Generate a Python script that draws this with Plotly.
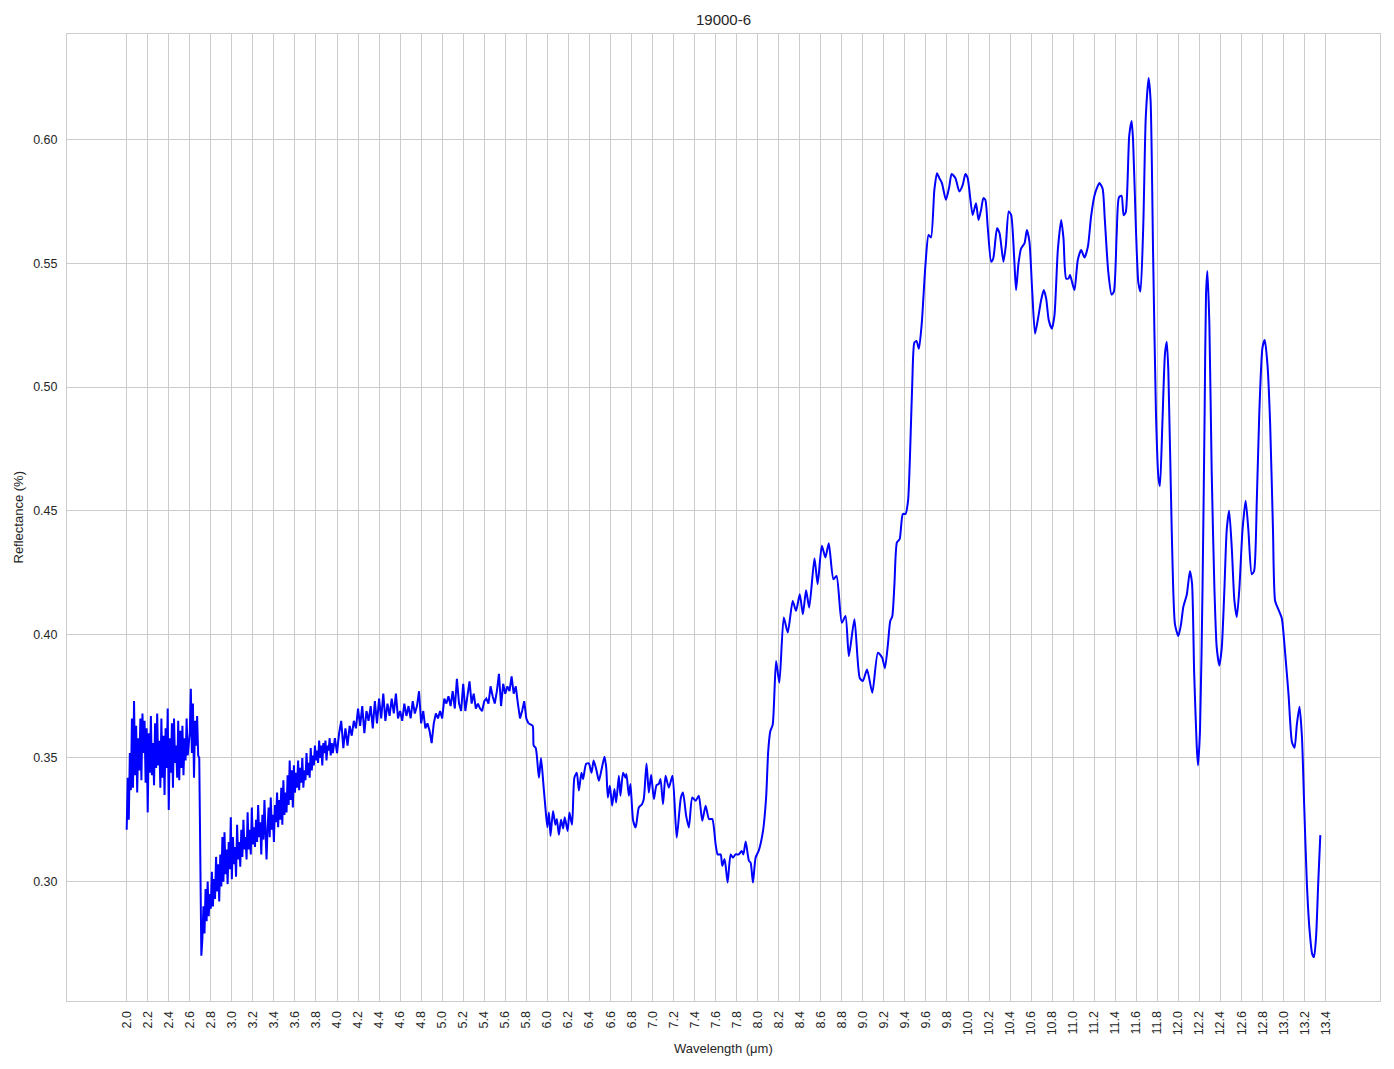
import numpy as np
import plotly.graph_objects as go

# ---- noisy segment A: 2.00 .. 2.69 (step 0.01)
noisy_a_start, noisy_a_step = 2.00, 0.01
noisy_a = [0.321, 0.342, 0.325, 0.352, 0.337, 0.366, 0.338, 0.373, 0.343, 0.363,
           0.336, 0.358, 0.345, 0.366, 0.341, 0.368, 0.352, 0.365, 0.340, 0.362,
           0.328, 0.360, 0.344, 0.367, 0.343, 0.356, 0.339, 0.364, 0.346, 0.368,
           0.347, 0.357, 0.338, 0.366, 0.342, 0.359, 0.335, 0.362, 0.346, 0.370,
           0.329, 0.358, 0.344, 0.364, 0.338, 0.366, 0.348, 0.355, 0.342, 0.365,
           0.341, 0.361, 0.346, 0.363, 0.343, 0.358, 0.349, 0.366, 0.351, 0.356,
           0.360, 0.378, 0.352, 0.372, 0.342, 0.365, 0.355, 0.367, 0.351, 0.350]

# ---- drop
drop_x = [2.695, 2.700, 2.705, 2.710]
drop_y = [0.331, 0.300, 0.272, 0.270]

# ---- noisy segment B: 2.72 .. 3.95 (step 0.01)
noisy_b_start, noisy_b_step = 2.72, 0.01
noisy_b = [0.277, 0.290, 0.279, 0.297, 0.284, 0.300, 0.286, 0.295, 0.289, 0.304,
           0.290, 0.301, 0.293, 0.310, 0.296, 0.307, 0.292, 0.311, 0.298, 0.318,
           0.300, 0.320, 0.303, 0.313, 0.299, 0.316, 0.305, 0.326, 0.301, 0.318,
           0.307, 0.314, 0.302, 0.323, 0.309, 0.316, 0.306, 0.321, 0.310, 0.325,
           0.313, 0.318, 0.309, 0.328, 0.313, 0.321, 0.311, 0.330, 0.315, 0.322,
           0.314, 0.325, 0.316, 0.331, 0.318, 0.324, 0.311, 0.327, 0.317, 0.333,
           0.320, 0.309, 0.322, 0.330, 0.318, 0.334, 0.321, 0.327, 0.316, 0.331,
           0.324, 0.336, 0.322, 0.333, 0.325, 0.338, 0.323, 0.341, 0.327, 0.336,
           0.328, 0.343, 0.331, 0.349, 0.333, 0.345, 0.330, 0.347, 0.336, 0.344,
           0.338, 0.349, 0.337, 0.346, 0.340, 0.350, 0.338, 0.345, 0.341, 0.352,
           0.343, 0.348, 0.342, 0.354, 0.345, 0.351, 0.347, 0.355, 0.349, 0.353,
           0.348, 0.357, 0.350, 0.355, 0.347, 0.356, 0.352, 0.357, 0.349, 0.355,
           0.353, 0.358, 0.351, 0.356]

# ---- noisy segment C: 3.96 .. 5.82 (step 0.02)
noisy_c_start, noisy_c_step = 3.96, 0.02
noisy_c = [0.352, 0.358, 0.352, 0.360, 0.365, 0.354, 0.362, 0.355, 0.363, 0.359,
           0.365, 0.362, 0.370, 0.363, 0.371, 0.360, 0.369, 0.365, 0.371, 0.362,
           0.373, 0.364, 0.374, 0.366, 0.376, 0.365, 0.372, 0.367, 0.374, 0.368,
           0.376, 0.366, 0.369, 0.365, 0.372, 0.367, 0.371, 0.366, 0.373, 0.368,
           0.371, 0.377, 0.364, 0.369, 0.362, 0.364, 0.361, 0.356, 0.364, 0.368,
           0.366, 0.369, 0.366, 0.374, 0.372, 0.375, 0.371, 0.377, 0.370, 0.382,
           0.372, 0.369, 0.380, 0.369, 0.375, 0.381, 0.372, 0.376, 0.370, 0.372,
           0.370, 0.369, 0.373, 0.374, 0.372, 0.379, 0.375, 0.372, 0.377, 0.384,
           0.371, 0.380, 0.376, 0.379, 0.377, 0.383, 0.376, 0.379, 0.372, 0.366,
           0.369, 0.373, 0.366, 0.364]

# ---- smoother part: 5.82 .. 13.35
smooth_x = [5.82, 5.86, 5.87, 5.89, 5.92, 5.94, 5.965, 5.98, 6.0, 6.015, 6.03, 6.054, 6.076, 6.09,
            6.11, 6.13, 6.15, 6.165, 6.193, 6.21, 6.235, 6.257, 6.28, 6.3, 6.324, 6.34,
            6.368, 6.394, 6.42, 6.44, 6.467, 6.49, 6.514, 6.543, 6.56, 6.575, 6.594,
            6.616, 6.638, 6.654, 6.68, 6.695, 6.72, 6.743, 6.752, 6.775, 6.79, 6.816,
            6.84, 6.87, 6.9, 6.917, 6.943, 6.965, 6.987, 7.013, 7.038, 7.06, 7.076,
            7.1, 7.124, 7.155, 7.19, 7.23, 7.27, 7.29, 7.32, 7.346, 7.378, 7.41, 7.44,
            7.473, 7.505, 7.537, 7.568, 7.6, 7.62, 7.648, 7.663, 7.686, 7.714, 7.743,
            7.765, 7.79, 7.82, 7.848, 7.864, 7.886, 7.917, 7.933, 7.955, 7.98, 8.01,
            8.05, 8.08, 8.1, 8.12, 8.143, 8.175, 8.206, 8.248, 8.286, 8.333, 8.365,
            8.4, 8.43, 8.46, 8.49, 8.54, 8.57, 8.61, 8.644, 8.676, 8.72, 8.75, 8.8,
            8.835, 8.867, 8.92, 8.97, 9.0, 9.04, 9.09, 9.143, 9.184, 9.21, 9.238,
            9.26, 9.28, 9.3, 9.324, 9.35, 9.38, 9.406, 9.43, 9.45, 9.47, 9.49, 9.51,
            9.533, 9.56, 9.594, 9.625, 9.648, 9.68, 9.705, 9.727, 9.752, 9.79, 9.822,
            9.844, 9.88, 9.917, 9.95, 9.975, 9.997, 10.044, 10.076, 10.1, 10.124,
            10.146, 10.165, 10.187, 10.22, 10.24, 10.276, 10.3, 10.337, 10.36, 10.387,
            10.41, 10.44, 10.457, 10.48, 10.505, 10.537, 10.56, 10.584, 10.61, 10.637,
            10.663, 10.695, 10.72, 10.743, 10.768, 10.797, 10.822, 10.854, 10.886,
            10.908, 10.933, 10.956, 10.97, 10.997, 11.013, 11.044, 11.076, 11.108,
            11.14, 11.17, 11.2, 11.225, 11.25, 11.28, 11.3, 11.333, 11.365, 11.387,
            11.413, 11.435, 11.46, 11.48, 11.5, 11.533, 11.556, 11.57, 11.597, 11.62,
            11.64, 11.667, 11.69, 11.717, 11.736, 11.76, 11.787, 11.81, 11.825,
            11.848, 11.873, 11.89, 11.905, 11.937, 11.968, 12.0, 12.025, 12.048,
            12.08, 12.11, 12.13, 12.15, 12.175, 12.187, 12.206, 12.23, 12.25, 12.263,
            12.276, 12.295, 12.317, 12.343, 12.365, 12.39, 12.413, 12.438, 12.46,
            12.483, 12.508, 12.533, 12.556, 12.58, 12.61, 12.64, 12.666, 12.698,
            12.72, 12.746, 12.77, 12.8, 12.822, 12.848, 12.873, 12.9, 12.92, 12.952,
            12.984, 13.016, 13.048, 13.08, 13.105, 13.127, 13.152, 13.175, 13.197,
            13.222, 13.248, 13.273, 13.29, 13.31, 13.33, 13.35]
smooth_y = [0.364, 0.363, 0.355, 0.354, 0.342, 0.350, 0.338, 0.3307, 0.322, 0.328, 0.3185, 0.3286, 0.323,
            0.3253, 0.319, 0.325, 0.3215, 0.326, 0.3205, 0.328, 0.323, 0.342, 0.344,
            0.3368, 0.344, 0.3415, 0.3476, 0.3478, 0.344, 0.349, 0.345, 0.3408, 0.345,
            0.3505, 0.346, 0.334, 0.3388, 0.3307, 0.3375, 0.332, 0.3428, 0.3347, 0.344,
            0.342, 0.3435, 0.3347, 0.3395, 0.3246, 0.3219, 0.330, 0.3313, 0.3334,
            0.3478, 0.336, 0.3432, 0.3334, 0.339, 0.3395, 0.3415, 0.3313, 0.3428,
            0.338, 0.3428, 0.3178, 0.334, 0.336, 0.3266, 0.3219, 0.334, 0.3327,
            0.3347, 0.3246, 0.3307, 0.3253, 0.3253, 0.3151, 0.311, 0.311, 0.3064,
            0.3091, 0.2996, 0.311, 0.3097, 0.311, 0.311, 0.3124, 0.311, 0.3162,
            0.3084, 0.3077, 0.2996, 0.3097, 0.3125, 0.3203, 0.3338, 0.3527, 0.3608,
            0.3635, 0.3892, 0.3804, 0.4068, 0.4007, 0.4135, 0.4095, 0.4162, 0.4081,
            0.4178, 0.4108, 0.4308, 0.4203, 0.4358, 0.4311, 0.4368, 0.4223, 0.4236,
            0.4047, 0.4074, 0.3912, 0.4061, 0.3824, 0.3811, 0.3858, 0.3764, 0.3926,
            0.3905, 0.3863, 0.3958, 0.4053, 0.4073, 0.420, 0.4372, 0.4385, 0.4487,
            0.4487, 0.4541, 0.4745, 0.5016, 0.518, 0.5186, 0.5155, 0.5257, 0.5486,
            0.5615, 0.5605, 0.5797, 0.5865, 0.5845, 0.5825, 0.5757, 0.5811, 0.5862,
            0.5845, 0.5791, 0.5818, 0.5862, 0.5845, 0.5696, 0.5743, 0.5676, 0.5716,
            0.5764, 0.5757, 0.5649, 0.5507, 0.552, 0.5642, 0.5622, 0.5507, 0.5574,
            0.571, 0.5696, 0.5514, 0.5392, 0.55, 0.5561, 0.5581, 0.5635, 0.5588,
            0.5392, 0.5216, 0.527, 0.5351, 0.5392, 0.5358, 0.527, 0.5236, 0.529,
            0.5554, 0.5676, 0.5601, 0.5439, 0.5439, 0.5453, 0.5412, 0.5392, 0.5514,
            0.5554, 0.5524, 0.5568, 0.5689, 0.577, 0.5804, 0.5825, 0.5802, 0.5683,
            0.5469, 0.5374, 0.5386, 0.5612, 0.5767, 0.5774, 0.5695, 0.5707, 0.6017,
            0.6076, 0.5993, 0.5636, 0.5421, 0.5386, 0.566, 0.6088, 0.625, 0.616,
            0.554, 0.4898, 0.4636, 0.46, 0.485, 0.5136, 0.5183, 0.5064, 0.4422,
            0.404, 0.3993, 0.404, 0.4112, 0.416, 0.4255, 0.4207, 0.385, 0.3545,
            0.347, 0.3612, 0.4184, 0.4898, 0.5374, 0.5469, 0.5255, 0.466, 0.4184,
            0.3946, 0.3874, 0.3946, 0.4184, 0.4422, 0.45, 0.435, 0.4136, 0.407,
            0.4184, 0.4422, 0.454, 0.4422, 0.4243, 0.4255, 0.454, 0.4898, 0.516,
            0.519, 0.5088, 0.485, 0.4422, 0.4136, 0.41, 0.4064, 0.3922, 0.3755,
            0.3565, 0.3541, 0.3636, 0.3707, 0.3588, 0.3303, 0.2993, 0.2802, 0.2707,
            0.2695, 0.2779, 0.2993, 0.3188]

x_ticks = [round(2.0 + 0.2 * i, 1) for i in range(58)]
y_ticks = [0.30, 0.35, 0.40, 0.45, 0.50, 0.55, 0.60]

title_text = "19000-6"
x_title = "Wavelength (μm)"
y_title = "Reflectance (%)"

xa = noisy_a_start + noisy_a_step * np.arange(len(noisy_a))
xb = noisy_b_start + noisy_b_step * np.arange(len(noisy_b))
xc = noisy_c_start + noisy_c_step * np.arange(len(noisy_c))
noisy_x = list(xa) + drop_x + list(xb) + list(xc)
noisy_y = noisy_a + drop_y + noisy_b + noisy_c

all_x = noisy_x + smooth_x
all_y = noisy_y + smooth_y
xmin, xmax = min(all_x), max(all_x)
ymin, ymax = min(all_y), max(all_y)
xpad = (xmax - xmin) * 0.05
ypad = (ymax - ymin) * 0.05

FONT = "Liberation Sans, Arial, DejaVu Sans, sans-serif"
TXT = "#262626"
GRID = "#cccccc"

# page body has an 8px margin: figure sits at (8, 8)
W, H = 1386, 1061
L, R, T, B = 59, 14, 26, 68
plot_w = W - L - R
plot_h = H - T - B

fig = go.Figure()
fig.add_trace(go.Scatter(x=noisy_x, y=noisy_y, mode="lines",
                         line=dict(color="#0000ff", width=2), showlegend=False))
fig.add_trace(go.Scatter(x=smooth_x, y=smooth_y, mode="lines",
                         line=dict(color="#0000ff", width=2, shape="spline", smoothing=0.6),
                         showlegend=False))

fig.update_layout(
    width=W, height=H,
    margin=dict(l=L, r=R, t=T, b=B),
    paper_bgcolor="white", plot_bgcolor="white",
    font=dict(family=FONT, color=TXT, size=13),
    title=dict(text=title_text, x=(L + plot_w / 2) / W, xanchor="center",
               y=1 - 12 / H, yanchor="middle", yref="container",
               font=dict(size=15, color=TXT, family=FONT)),
)
fig.update_xaxes(range=[xmin - xpad, xmax + xpad], tickmode="array", tickvals=x_ticks,
                 ticktext=[f"{v:.1f}" for v in x_ticks], tickangle=-90,
                 showgrid=True, gridcolor=GRID, gridwidth=1, zeroline=False,
                 showline=True, linecolor=GRID, linewidth=1, mirror=True,
                 ticks="", ticklabelstandoff=4,
                 tickfont=dict(size=12.5, color=TXT), automargin=False)
fig.update_yaxes(range=[ymin - ypad, ymax + ypad], tickmode="array", tickvals=y_ticks,
                 ticktext=[f"{v:.2f}" for v in y_ticks],
                 showgrid=True, gridcolor=GRID, gridwidth=1, zeroline=False,
                 showline=True, linecolor=GRID, linewidth=1, mirror=True,
                 ticks="", ticklabelstandoff=6,
                 tickfont=dict(size=12.5, color=TXT), automargin=False)

fig.add_annotation(text=x_title, xref="paper", yref="paper", x=0.5,
                   y=-(1048 - 1001) / plot_h, xanchor="center", yanchor="middle",
                   showarrow=False, font=dict(size=13, color=TXT, family=FONT))
fig.add_annotation(text=y_title, xref="paper", yref="paper", x=-(67 - 18) / plot_w,
                   y=0.5, xanchor="center", yanchor="middle", textangle=-90,
                   showarrow=False, font=dict(size=13, color=TXT, family=FONT))

fig.write_html("out.html")
